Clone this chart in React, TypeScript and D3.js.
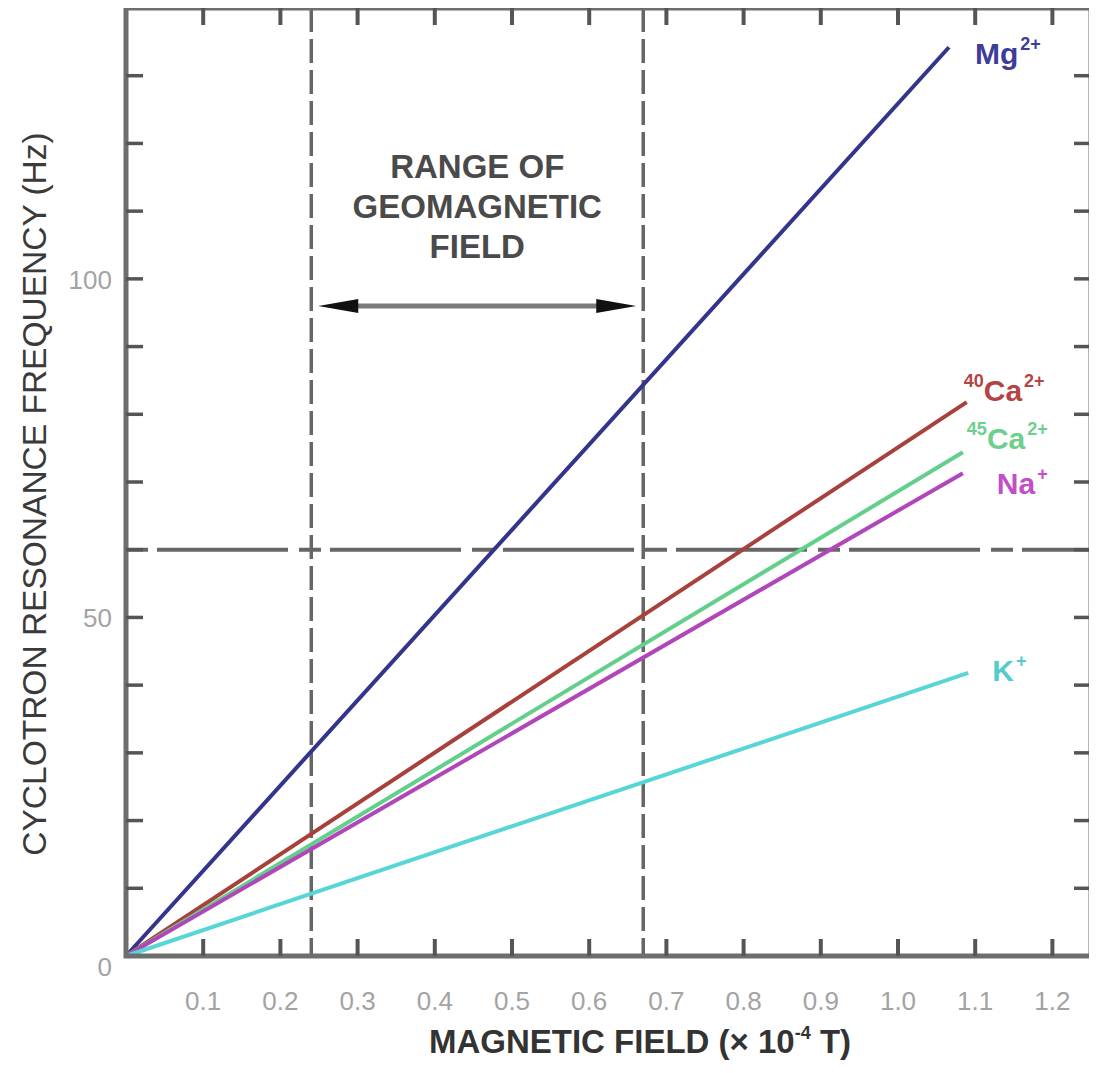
import React from 'react'
import * as d3 from 'd3'

// ions and where each line ends (field in 1e-4 T, frequency in Hz)
const ions = ['Mg2+', '40Ca2+', '45Ca2+', 'Na+', 'K+']
const fieldEnd = [1.066, 1.089, 1.084, 1.084, 1.091]
const freqEnd = [134.2, 81.8, 74.4, 71.3, 41.8]

// label pieces
const labelMass = ['', '40', '45', '', '']
const labelBase = ['Mg', 'Ca', 'Ca', 'Na', 'K']
const labelCharge = ['2+', '2+', '2+', '+', '+']

const xTicks = [0.1, 0.2, 0.3, 0.4, 0.5, 0.6, 0.7, 0.8, 0.9, 1.0, 1.1, 1.2]
const xTickLabels = ['0.1', '0.2', '0.3', '0.4', '0.5', '0.6', '0.7', '0.8', '0.9', '1.0', '1.1', '1.2']
const yTicks = [10, 20, 30, 40, 50, 60, 70, 80, 90, 100, 110, 120, 130]
const yTickLabels = [0, 50, 100]

const geoRange = [0.24, 0.67]
const mainsFreq = 60
const arrowFreq = 96
const rangeText = ['RANGE OF', 'GEOMAGNETIC', 'FIELD']

const lineColors = ['#34348c', '#a8403c', '#62d08a', '#b046ba', '#58d6d6']
const labelColors = ['#3d3d99', '#b44444', '#6ccf8c', '#c24ec8', '#52cccc']
const labelOffset = [[26, 17], [-3, -1], [4, -3], [34, 21], [24, 8]]

const FONT = '"Liberation Sans", Arial, sans-serif'

export default function App() {
  const W = 1097
  const H = 1073
  const x = d3.scaleLinear().domain([0, 1.25]).range([126, 1091])
  const y = d3.scaleLinear().domain([0, 140]).range([956, 8])
  const [x0, x1] = x.range()
  const [y0, y1] = y.range()

  const line = d3
    .line<[number, number]>()
    .x((d) => x(d[0]))
    .y((d) => y(d[1]))

  const axisColor = '#6e6e6e'
  const tickLen = 17
  const ay = y(arrowFreq)
  const al = x(geoRange[0]) + 7
  const ar = x(geoRange[1]) - 7
  const head = 40

  return (
    <div style={{ margin: -8 }}>
      <svg width={W} height={H} style={{ display: 'block', background: '#fff' }}>
        {/* geomagnetic range and 60 Hz reference */}
        {geoRange.map((b, i) => (
          <line
            key={'g' + i}
            x1={x(b)}
            x2={x(b)}
            y1={y1}
            y2={y0}
            stroke="#666"
            strokeWidth={3.5}
            strokeDasharray="24,7"
          />
        ))}
        <line
          x1={x0}
          x2={x1}
          y1={y(mainsFreq)}
          y2={y(mainsFreq)}
          stroke="#666"
          strokeWidth={4}
          strokeDasharray="22,9,131,11"
        />

        {/* ion lines */}
        {ions.map((ion, i) => (
          <path
            key={ion}
            d={line([
              [0, 0],
              [fieldEnd[i], freqEnd[i]],
            ]) as string}
            fill="none"
            stroke={lineColors[i]}
            strokeWidth={4}
          />
        ))}

        {/* ion labels */}
        {ions.map((ion, i) => {
          const lx = x(fieldEnd[i]) + labelOffset[i][0]
          const ly = y(freqEnd[i]) + labelOffset[i][1]
          return (
            <text
              key={'l' + ion}
              x={lx}
              y={ly}
              fontFamily={FONT}
              fontWeight="bold"
              fontSize={30}
              fill={labelColors[i]}
            >
              {labelMass[i] && (
                <tspan fontSize={18} dy={-14}>
                  {labelMass[i]}
                </tspan>
              )}
              <tspan dy={labelMass[i] ? 14 : 0}>{labelBase[i]}</tspan>
              <tspan fontSize={18} dy={-14} dx={2}>
                {labelCharge[i]}
              </tspan>
            </text>
          )
        })}

        {/* range annotation */}
        {rangeText.map((t, i) => (
          <text
            key={t}
            x={(x(geoRange[0]) + x(geoRange[1])) / 2}
            y={178 + i * 40}
            textAnchor="middle"
            fontFamily={FONT}
            fontWeight="bold"
            fontSize={33}
            fill="#4a4a4a"
          >
            {t}
          </text>
        ))}
        <line x1={al + head - 4} x2={ar - head + 4} y1={ay} y2={ay} stroke="#7a7a7a" strokeWidth={5} />
        <path d={`M${al},${ay} L${al + head},${ay - 7} L${al + head},${ay + 7} Z`} fill="#111" />
        <path d={`M${ar},${ay} L${ar - head},${ay - 7} L${ar - head},${ay + 7} Z`} fill="#111" />

        {/* frame */}
        <rect
          x={x0}
          y={y1}
          width={x1 - x0}
          height={y0 - y1}
          fill="none"
          stroke={axisColor}
          strokeWidth={5}
        />

        {/* ticks */}
        {xTicks.map((t) => (
          <g key={'xt' + t} stroke="#555" strokeWidth={4}>
            <line x1={x(t)} x2={x(t)} y1={y0} y2={y0 - tickLen} />
            <line x1={x(t)} x2={x(t)} y1={y1} y2={y1 + tickLen} />
          </g>
        ))}
        {yTicks.map((t) => (
          <g key={'yt' + t} stroke="#555" strokeWidth={3.5}>
            <line x1={x0} x2={x0 + tickLen} y1={y(t)} y2={y(t)} />
            <line x1={x1} x2={x1 - tickLen} y1={y(t)} y2={y(t)} />
          </g>
        ))}

        {/* tick labels */}
        {xTicks.map((t, i) => (
          <text
            key={'xl' + t}
            x={x(t)}
            y={1010}
            textAnchor="middle"
            fontFamily={FONT}
            fontSize={26}
            fill="#a3a3a3"
          >
            {xTickLabels[i]}
          </text>
        ))}
        {yTickLabels.map((t) => (
          <text
            key={'yl' + t}
            x={112}
            y={y(t) + (t === 0 ? 20 : 10)}
            textAnchor="end"
            fontFamily={FONT}
            fontSize={26}
            fill="#a3a3a3"
          >
            {t}
          </text>
        ))}

        {/* axis titles */}
        <text
          x={640}
          y={1053}
          textAnchor="middle"
          fontFamily={FONT}
          fontWeight="bold"
          fontSize={33}
          fill="#333"
        >
          MAGNETIC FIELD (× 10
          <tspan fontSize={18} dy={-14}>
            -4
          </tspan>
          <tspan dy={14}> T)</tspan>
        </text>
        <text
          transform={`translate(46,${494}) rotate(-90)`}
          textAnchor="middle"
          fontFamily={FONT}
          fontSize={33.5}
          fill="#3a3a3a"
        >
          CYCLOTRON RESONANCE FREQUENCY (Hz)
        </text>
      </svg>
    </div>
  )
}
